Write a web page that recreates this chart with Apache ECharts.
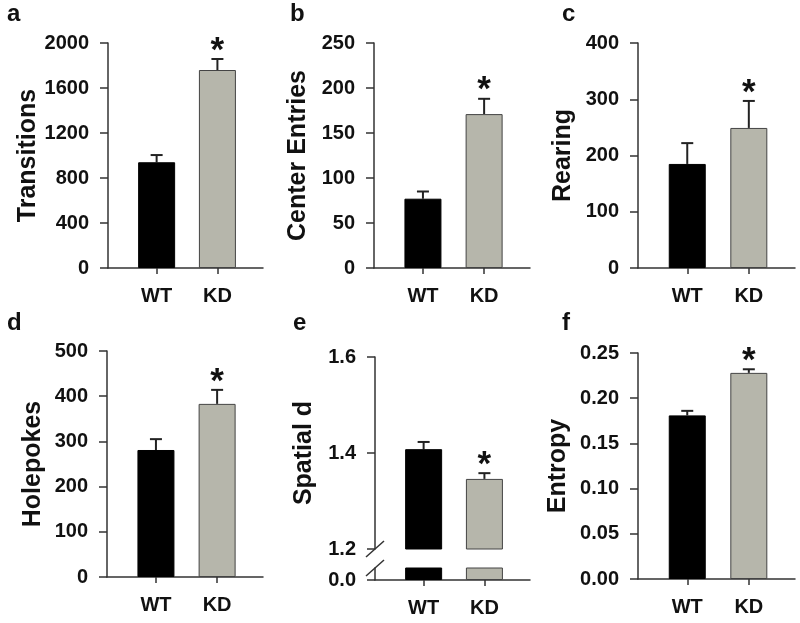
<!DOCTYPE html>
<html>
<head>
<meta charset="utf-8">
<script src="https://cdn.jsdelivr.net/npm/echarts@6/dist/echarts.min.js"></script>
<style>
  html, body { margin: 0; padding: 0; background: #fff; }
  #main { width: 800px; height: 623px; }
</style>
</head>
<body>
<div id="main"></div>
<script>
// groups on the x axis
var groups = ['WT', 'KD'];

// mean and SEM
var transMean = [940, 1760];
var transErr = [64, 98];
var centerMean = [77, 171];
var centerErr = [8, 17];
var rearMean = [185, 249];
var rearErr = [37, 48];
var holeMean = [281, 383];
var holeErr = [24, 31];
var spatialMean = [1.408, 1.346];
var spatialErr = [0.015, 0.012];
var entropyMean = [0.181, 0.228];
var entropyErr = [0.005, 0.004];
var signif = [false, true];

var panelLetters = ['a', 'b', 'c', 'd', 'e', 'f'];

var barColors = ['#000000', '#b6b6ab'];
var font = 'Liberation Sans, Arial, sans-serif';
var axisColor = '#333';

var chartDom = document.getElementById('main');
var myChart = echarts.init(chartDom);

var option = {
    animation: false,
    title: [],
    grid: [],
    xAxis: [],
    yAxis: [],
    series: []
};

function renderErr(params, api) {
    var x = api.value(0), m = api.value(1), e = api.value(2);
    var base = api.coord([x, m]);
    var top = api.coord([x, m + e]);
    var kids = [
        { type: 'line', shape: { x1: base[0], y1: base[1], x2: top[0], y2: top[1] },
          style: { stroke: '#222', lineWidth: 2 } },
        { type: 'line', shape: { x1: top[0] - 6, y1: top[1], x2: top[0] + 6, y2: top[1] },
          style: { stroke: '#222', lineWidth: 2 } }
    ];
    if (api.value(3)) {
        kids.push({ type: 'text', x: top[0], y: top[1] - 8,
            style: { text: '*', fontSize: 35, fontWeight: 'bold', fontFamily: font,
                     fill: '#111', align: 'center', verticalAlign: 'middle' } });
    }
    return { type: 'group', children: kids };
}

// y: {min, max, interval, name, fmt, values, nameGap}
function addGrid(rect, y, means, errs, showX) {
    var i = option.grid.length;
    option.grid.push({ left: rect[0], top: rect[1], width: rect[2], height: rect[3] });
    option.xAxis.push({
        type: 'value', gridIndex: i, min: -0.8, max: 1.75,
        axisLine: { show: showX, onZero: false, lineStyle: { color: axisColor, width: 1.5 } },
        axisTick: { show: showX, customValues: [0, 1], length: 6,
                    lineStyle: { color: axisColor, width: 1.5 } },
        axisLabel: { show: showX, customValues: [0, 1], margin: 18, color: '#111',
                     fontSize: 20, fontWeight: 'bold', fontFamily: font,
                     formatter: function (v) { return groups[Math.round(v)]; } },
        splitLine: { show: false }
    });
    var label = { margin: 19, color: '#111', fontSize: 20, fontWeight: 'bold', fontFamily: font,
                  formatter: y.fmt || function (v) { return String(v); } };
    var tick = { show: true, length: 8, lineStyle: { color: axisColor, width: 1.5 } };
    if (y.values) { label.customValues = y.values; tick.customValues = y.values; }
    option.yAxis.push({
        type: 'value', gridIndex: i, min: y.min, max: y.max, interval: y.interval,
        name: y.name || '', nameLocation: 'middle', nameGap: y.nameGap || 60,
        nameTextStyle: { color: '#111', fontSize: 25, fontWeight: 'bold', fontFamily: font },
        axisLine: { show: true, onZero: false, lineStyle: { color: axisColor, width: 1.5 } },
        axisTick: tick,
        axisLabel: label,
        splitLine: { show: false }
    });
    option.series.push({
        type: 'bar', xAxisIndex: i, yAxisIndex: i, barWidth: 37, silent: true,
        data: means.map(function (m, k) {
            return { value: [k, m], itemStyle: { color: barColors[k],
                     borderColor: k ? '#444' : '#000', borderWidth: 1 } };
        })
    });
    if (errs) {
        option.series.push({
            type: 'custom', xAxisIndex: i, yAxisIndex: i, silent: true, clip: false,
            renderItem: renderErr,
            data: means.map(function (m, k) { return [k, m, errs[k], signif[k] ? 1 : 0]; })
        });
    }
    return i;
}

addGrid([108, 43, 155, 225], { min: 0, max: 2000, interval: 400, name: 'Transitions', nameGap: 60 },
        transMean, transErr, true);
addGrid([374, 43, 156, 225], { min: 0, max: 250, interval: 50, name: 'Center Entries', nameGap: 63 },
        centerMean, centerErr, true);
addGrid([638, 43, 157, 225], { min: 0, max: 400, interval: 100, name: 'Rearing', nameGap: 62 },
        rearMean, rearErr, true);
addGrid([107, 351, 156, 226], { min: 0, max: 500, interval: 100, name: 'Holepokes', nameGap: 61 },
        holeMean, holeErr, true);
// broken axis: upper part 1.2-1.6, lower stub at 0
var eTop = addGrid([375, 357, 155, 192], { min: 1.2, max: 1.6, interval: 0.2, name: 'Spatial d',
        nameGap: 58, fmt: function (v) { return v.toFixed(1); } },
        spatialMean, spatialErr, false);
var eLow = addGrid([375, 568, 155, 12], { min: 0, max: 0.05, values: [0],
        fmt: function () { return '0.0'; } },
        spatialMean, null, true);
addGrid([638, 353, 157, 226], { min: 0, max: 0.25, interval: 0.05, name: 'Entropy',
        nameGap: 67, fmt: function (v) { return v.toFixed(2); } },
        entropyMean, entropyErr, true);

var letterPos = [[7, 2], [290, 2], [562, 2], [7, 311], [293, 311], [562, 311]];
panelLetters.forEach(function (t, k) {
    option.title.push({ text: t, left: letterPos[k][0], top: letterPos[k][1], padding: 0,
        textStyle: { color: '#111', fontSize: 24, fontWeight: 'bold', fontFamily: font } });
});

myChart.setOption(option);

// break marks on the Spatial d axis
var p1 = myChart.convertToPixel({ gridIndex: eTop }, [-0.8, 1.2]);
var p2 = myChart.convertToPixel({ gridIndex: eLow }, [-0.8, 0.05]);
myChart.setOption({
    graphic: [p1, p2].map(function (p) {
        return { type: 'line', shape: { x1: p[0] - 9, y1: p[1] + 8, x2: p[0] + 9, y2: p[1] - 8 },
                 style: { stroke: axisColor, lineWidth: 1.5 } };
    })
});
</script>
</body>
</html>
